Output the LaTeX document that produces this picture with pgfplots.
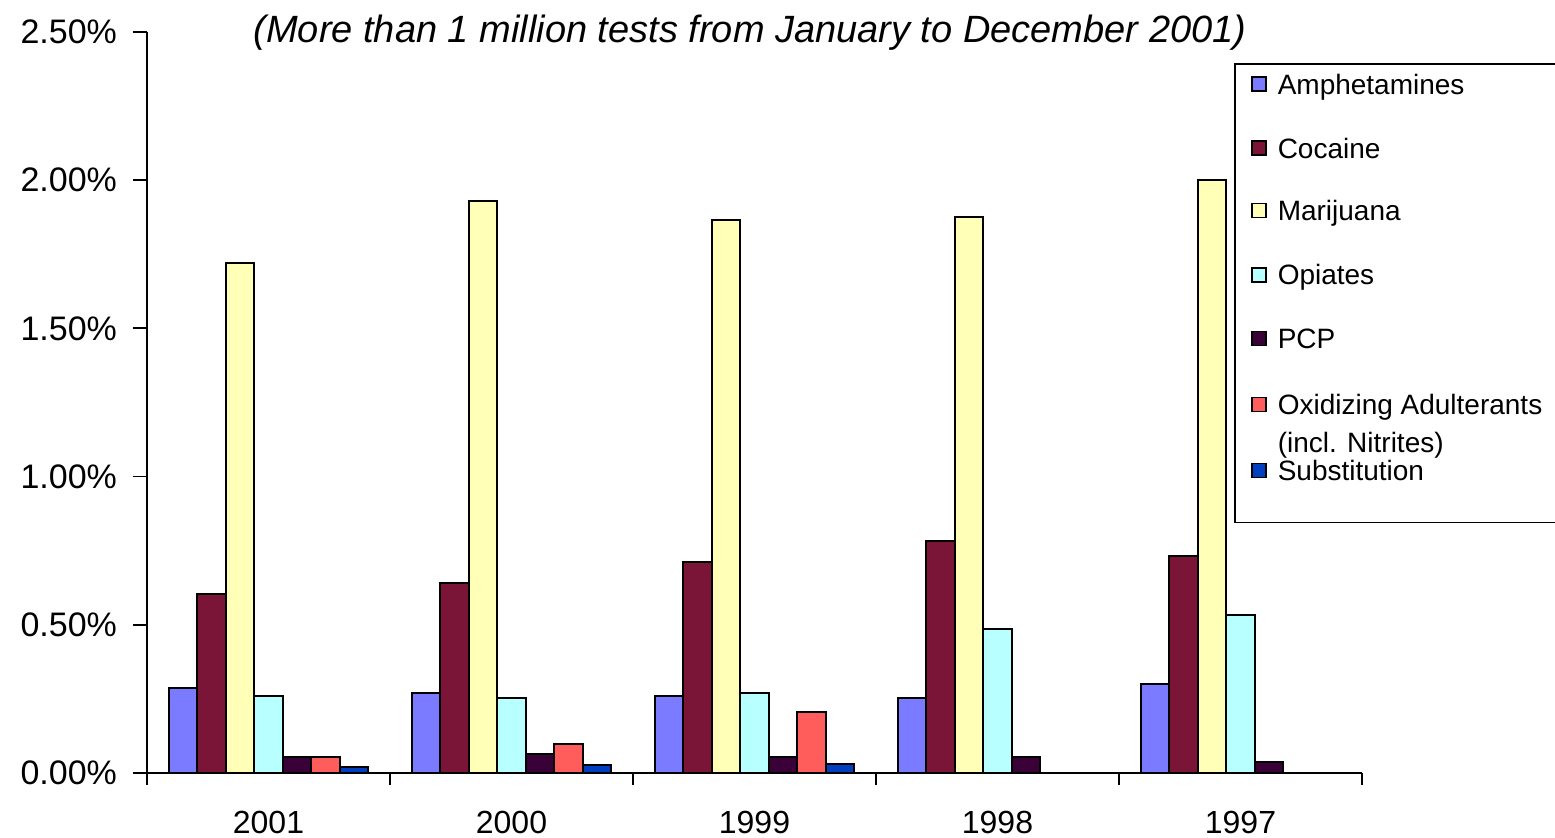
\documentclass[border=0pt]{standalone}
\usepackage{fontspec}
\setmainfont{Liberation Sans}
\usepackage{pgfplots}
\pgfplotsset{compat=1.18}
\definecolor{camph}{HTML}{7B7BFF}
\definecolor{ccoca}{HTML}{7B1538}
\definecolor{cmari}{HTML}{FFFFB8}
\definecolor{copia}{HTML}{B8FFFF}
\definecolor{cpcp}{HTML}{3A0038}
\definecolor{coxid}{HTML}{FF5C5C}
\definecolor{csubs}{HTML}{0040C0}
\newcommand{\ls}{\rule[-2pt]{0pt}{12pt}}
\pgfplotsset{
  sq/.style={legend image code/.code={%
      \draw[##1,line width=0.9pt] (0pt,1.5pt) rectangle (7pt,8.5pt);}},
  barsty/.style={draw=black, line width=1pt, fill=#1, sq},
}
\begin{document}
\begin{tikzpicture}
\begin{axis}[
  at={(0pt,0pt)}, anchor=south west,
  scale only axis, width=607.5pt, height=370.5pt,
  xmin=-0.5, xmax=4.5, ymin=0, ymax=2.5,
  clip mode=individual,
  axis x line*=bottom, axis y line*=left,
  axis line style={line width=0.9pt, black, -},
  ybar=0pt, bar width=0.1173,
  xtick={0,1,2,3,4}, xticklabels={2001,2000,1999,1998,1997},
  minor xtick={-0.5,0.5,1.5,2.5,3.5,4.5},
  major x tick style={draw=none},
  minor x tick style={line width=0.9pt, black},
  major y tick style={line width=0.9pt, black},
  tick align=outside,
  major tick length=7pt, minor tick length=6pt,
  ytick={0,0.5,1,1.5,2,2.5},
  yticklabels={0.00\%,0.50\%,1.00\%,1.50\%,2.00\%,2.50\%},
  xticklabel style={font=\fontsize{16}{19}\selectfont, yshift=-8.5pt},
  yticklabel style={font=\fontsize{17}{20}\selectfont, xshift=-4.5pt},
  legend style={at={(axis description cs:0.8947,0.9582)}, anchor=north west,
    draw=black, line width=0.9pt, fill=white,
    inner xsep=8pt, inner ysep=5pt, row sep=19pt, column sep=5.5pt,
    cells={anchor=base west},
    nodes={inner sep=0pt, text depth=, text height=, font=\fontsize{14}{17}\selectfont}},
]
\addplot[barsty=camph] coordinates {(0,0.288) (1,0.271) (2,0.261) (3,0.253) (4,0.300)};
\addlegendentry{\ls Amphetamines}
\addplot[barsty=ccoca] coordinates {(0,0.604) (1,0.641) (2,0.712) (3,0.783) (4,0.732)};
\addlegendentry{\ls Cocaine}
\addplot[barsty=cmari] coordinates {(0,1.720) (1,1.930) (2,1.866) (3,1.876) (4,2.000)};
\addlegendentry{\ls Marijuana}
\addplot[barsty=copia] coordinates {(0,0.260) (1,0.253) (2,0.270) (3,0.486) (4,0.533)};
\addlegendentry{\ls Opiates}
\addplot[barsty=cpcp] coordinates {(0,0.054) (1,0.064) (2,0.054) (3,0.054) (4,0.037)};
\addlegendentry{\ls PCP}
\addplot[barsty=coxid] coordinates {(0,0.054) (1,0.098) (2,0.206)};
\addlegendentry{\raisebox{0pt}[12pt][2pt]{\begin{tabular}[t]{@{}l@{}}\ls Oxidizing Adulterants\\[2pt](incl. Nitrites)\end{tabular}}}
\addplot[barsty=csubs] coordinates {(0,0.020) (1,0.027) (2,0.029)};
\addlegendentry{\rule[-16pt]{0pt}{28pt}Substitution}
\node[font=\itshape\fontsize{19}{23}\selectfont] at (axis description cs:0.4963,0.9995)
  {(More than 1 million tests from January to December 2001)};
\end{axis}
\pgfresetboundingbox
\path (-73.5pt,-32.5pt) rectangle (704pt,386.5pt);
\end{tikzpicture}
\end{document}
